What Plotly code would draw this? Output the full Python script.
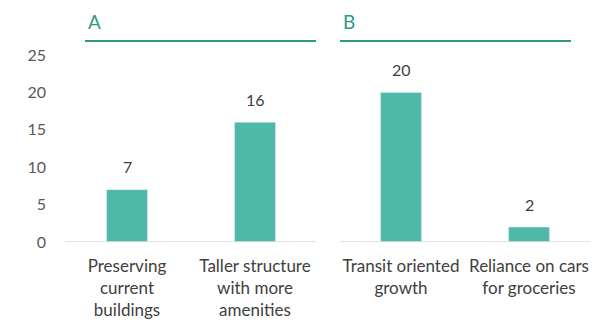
import plotly.graph_objects as go

# Survey responses, two panels
cats_a = ["Preserving<br>current<br>buildings", "Taller structure<br>with more<br>amenities"]
vals_a = [7, 16]
cats_b = ["Transit oriented<br>growth", "Reliance on cars<br>for groceries"]
vals_b = [20, 2]
panel_titles = ["A", "B"]
y_ticks = [0, 5, 10, 15, 20, 25]

BAR = "#4fb9a9"
TEAL = "#2f9a80"
TXT = "#404040"
FONT = "Lato"

W, H = 610, 325
T, B = 55, 83
PH = H - T - B

fig = go.Figure()

for cats, vals, xa, ya in [(cats_a, vals_a, "x", "y"), (cats_b, vals_b, "x2", "y2")]:
    fig.add_trace(go.Bar(x=cats, y=vals, xaxis=xa, yaxis=ya, marker_color=BAR,
                         width=0.32, cliponaxis=False, hoverinfo="x+y"))
    # value labels above each bar
    for c, v in zip(cats, vals):
        fig.add_annotation(x=c, y=v, xref=xa, yref=ya, text=str(v), showarrow=False,
                           yanchor="middle", yshift=23,
                           font=dict(size=16, color=TXT, family=FONT))

dom_a = [63 / W, 319 / W]
dom_b = [337 / W, 593 / W]

xcommon = dict(showgrid=False, zeroline=False, showline=False, ticks="",
               ticklabelstandoff=12,
               tickfont=dict(size=17, color=TXT, family=FONT))
ycommon = dict(range=[0, 25], showgrid=False, zeroline=False, showline=False)

fig.update_layout(
    width=W, height=H, margin=dict(l=0, r=0, t=T, b=B),
    paper_bgcolor="white", plot_bgcolor="white", showlegend=False,
    font=dict(family=FONT),
    xaxis=dict(domain=dom_a, **xcommon),
    xaxis2=dict(domain=dom_b, anchor="y2", **xcommon),
    yaxis=dict(anchor="x", tickvals=y_ticks, ticklabelstandoff=16,
               tickfont=dict(size=16, color="#595959", family=FONT), **ycommon),
    yaxis2=dict(anchor="x2", showticklabels=False, **ycommon),
)

# Baselines under each panel
fig.add_shape(type="line", xref="paper", yref="y", x0=65 / W, x1=316 / W, y0=0, y1=0,
              line=dict(color="#d9d9d9", width=1.5))
fig.add_shape(type="line", xref="paper", yref="y2", x0=340 / W, x1=590 / W, y0=0, y1=0,
              line=dict(color="#d9d9d9", width=1.5))

# Panel header rules and letters
for (x0, x1), label in zip([(85, 316), (340, 571)], panel_titles):
    yr = 1 + 14 / PH
    fig.add_shape(type="line", xref="paper", yref="paper", x0=x0 / W, x1=x1 / W,
                  y0=yr, y1=yr, line=dict(color=TEAL, width=2))
    fig.add_annotation(xref="paper", yref="paper", x=(x0 + 1) / W, y=1 + 33 / PH,
                       text=label, showarrow=False, xanchor="left", yanchor="middle",
                       font=dict(size=19, color=TEAL, family=FONT))

fig.write_html("out.html")
